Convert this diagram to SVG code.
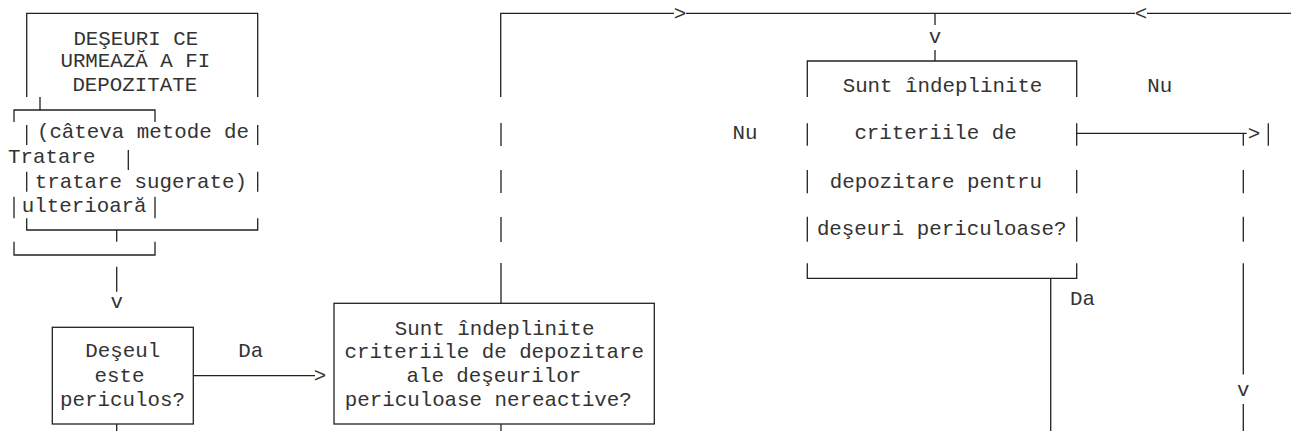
<svg xmlns="http://www.w3.org/2000/svg" width="1291" height="431" viewBox="0 0 1291 431">
<style>
text{font-family:"Liberation Mono","Courier New",monospace;font-size:20.8px;fill:#333;text-anchor:middle}
.ln{fill:none;stroke:#222;stroke-width:1.3}
</style>
<rect width="1291" height="431" fill="#fff"/>
<g id="node-deseuri">
<path class="ln" d="M26.7 97V13.3H257.7V97"/>
<path class="ln" d="M40 97V110M14 122V110H155V122"/>
<path class="ln" d="M26.7 125V145M257.7 125V145M128.3 150V170M26.7 171.7V191.7M257.7 171.7V191.7M14 196.7V218.3M155 196.7V218.3"/>
<path class="ln" d="M26.7 218.3V230H257.7V218.3M116.7 230V241.7"/>
<path class="ln" d="M14 241.7V255H155V241.7"/>
<text x="135.8" y="45">DEŞEURI CE</text>
<text x="135.3" y="67">URMEAZĂ A FI</text>
<text x="134.8" y="90.5">DEPOZITATE</text>
<text x="143" y="138">(câteva metode de</text>
<text x="51.7" y="163">Tratare</text>
<text x="140.8" y="188.3">tratare sugerate)</text>
<text x="84.2" y="211.7">ulterioară</text>
</g>
<g id="node-periculos">
<rect class="ln" x="52.3" y="327.3" width="141" height="96.7"/>
<text x="122.7" y="356.7">Deşeul</text>
<text x="119.5" y="381.7">este</text>
<text x="122.5" y="406">periculos?</text>
</g>
<g id="node-nereactive">
<rect class="ln" x="334" y="303.3" width="320.3" height="120.7"/>
<text x="494.7" y="335">Sunt îndeplinite</text>
<text x="494.2" y="358.3">criteriile de depozitare</text>
<text x="493.8" y="381.7">ale deşeurilor</text>
<text x="488.3" y="406">periculoase nereactive?</text>
</g>
<g id="node-periculoase">
<path class="ln" d="M807.3 97V61H1076.7V97"/>
<path class="ln" d="M807.3 123.3V145.7M1076.7 123.3V145.7M807.3 170V193.3M1076.7 170V193.3M807.3 216.7V241.7M1076.7 216.7V241.7"/>
<path class="ln" d="M807.3 263.3V278.3H1076.7V263.3"/>
<text x="942.5" y="91.7">Sunt îndeplinite</text>
<text x="935.5" y="139">criteriile de</text>
<text x="935.8" y="188.3">depozitare pentru</text>
<text x="941.7" y="235">deşeuri periculoase?</text>
</g>
<g id="connectors">
<path class="ln" d="M116.7 266.7V291.7"/>
<text x="116.7" y="308">v</text>
<path class="ln" d="M116.7 424V431"/>
<path class="ln" d="M193.3 375.7H315"/>
<text x="320" y="381.7">&gt;</text>
<text x="250.8" y="356.7">Da</text>
<path class="ln" d="M501 424V431"/>
<path class="ln" d="M500.7 97V13.3H674M686 13.3H1135M1147 13.3H1291"/>
<text x="680" y="20">&gt;</text>
<text x="1141" y="20">&lt;</text>
<path class="ln" d="M501 123V146M501 170V193M501 217V242M501 263V303.3"/>
<path class="ln" d="M935 13.3V25M935 50V61"/>
<text x="935" y="42.7">v</text>
<text x="745" y="139">Nu</text>
<text x="1159.7" y="91.7">Nu</text>
<path class="ln" d="M1076.7 133.3H1246.7M1243.3 133.3V145.7M1268.3 123.3V145.7"/>
<text x="1254" y="140">&gt;</text>
<path class="ln" d="M1243.3 170V193.3M1243.3 216.7V241.7M1243.3 263.3V374.4M1243.3 404V431"/>
<text x="1243.3" y="396">v</text>
<path class="ln" d="M1050.7 278.3V431"/>
<text x="1082.5" y="305">Da</text>
</g>
</svg>
